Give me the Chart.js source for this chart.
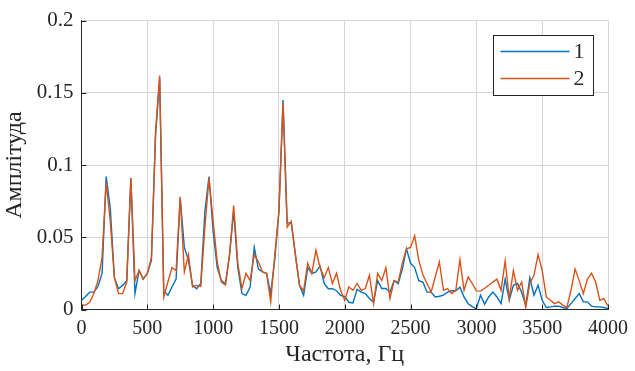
<!DOCTYPE html>
<html>
<head>
<meta charset="utf-8">
<script src="https://cdn.jsdelivr.net/npm/chart.js@4"></script>
<style>
  html, body { margin: 0; padding: 0; background: #fff; }
  #wrap { width: 635px; height: 371px; }
</style>
</head>
<body>
<div id="wrap"><canvas id="spectrum"></canvas></div>
<script>
// frequency step of the spectrum (Hz), bins 0..128
const binStep = 31.25;

const series1 = [
  0.0064, 0.009, 0.012, 0.012, 0.016, 0.025, 0.092, 0.070, 0.022, 0.0144,
  0.0167, 0.020, 0.091, 0.011, 0.027, 0.021, 0.025, 0.034, 0.120, 0.160,
  0.013, 0.0098, 0.0156, 0.021, 0.077, 0.043, 0.034, 0.0167, 0.0144, 0.018,
  0.068, 0.092, 0.054, 0.029, 0.020, 0.018, 0.038, 0.068, 0.029, 0.011,
  0.0098, 0.0156, 0.043, 0.028, 0.026, 0.025, 0.011, 0.035, 0.068, 0.145,
  0.060, 0.060, 0.038, 0.0167, 0.0098, 0.029, 0.025, 0.026, 0.030, 0.018,
  0.0144, 0.0144, 0.013, 0.0098, 0.009, 0.005, 0.0046, 0.014, 0.012, 0.011,
  0.0076, 0.005, 0.020, 0.0145, 0.0145, 0.012, 0.020, 0.018, 0.028, 0.042,
  0.032, 0.029, 0.020, 0.019, 0.012, 0.012, 0.0087, 0.0092, 0.010, 0.012,
  0.013, 0.013, 0.0155, 0.0087, 0.004, 0.002, 0.0005, 0.0099, 0.0037, 0.0087,
  0.012, 0.0087, 0.0041, 0.021, 0.0064, 0.0168, 0.018, 0.012, 0.003, 0.022,
  0.0099, 0.0168, 0.0064, 0.0014, 0.0018, 0.0023, 0.0023, 0.0014, 0.0007, 0.0041,
  0.0076, 0.011, 0.0053, 0.0053, 0.0023, 0.0018, 0.0018, 0.0014, 0.0007
];

const series2 = [
  0.003, 0.003, 0.005, 0.011, 0.020, 0.036, 0.088, 0.061, 0.022, 0.011,
  0.011, 0.019, 0.091, 0.020, 0.027, 0.021, 0.025, 0.036, 0.123, 0.162,
  0.0087, 0.019, 0.029, 0.027, 0.078, 0.026, 0.038, 0.0156, 0.0167, 0.016,
  0.057, 0.091, 0.061, 0.033, 0.019, 0.017, 0.038, 0.072, 0.032, 0.0144,
  0.025, 0.020, 0.038, 0.033, 0.026, 0.025, 0.0053, 0.038, 0.068, 0.143,
  0.057, 0.061, 0.038, 0.0167, 0.013, 0.032, 0.025, 0.041, 0.029, 0.022,
  0.029, 0.018, 0.025, 0.013, 0.0064, 0.0156, 0.0133, 0.018, 0.0133, 0.0145,
  0.0237, 0.0041, 0.025, 0.020, 0.029, 0.0076, 0.020, 0.019, 0.032, 0.042,
  0.043, 0.051, 0.034, 0.024, 0.018, 0.012, 0.0225, 0.033, 0.0133, 0.0145,
  0.011, 0.0133, 0.0345, 0.0133, 0.0225, 0.018, 0.0129, 0.0127, 0.0145, 0.0168,
  0.019, 0.021, 0.0133, 0.0336, 0.0076, 0.027, 0.0133, 0.019, 0.0014, 0.018,
  0.0237, 0.038, 0.027, 0.0087, 0.0064, 0.0041, 0.0053, 0.003, 0.0014, 0.0133,
  0.028, 0.020, 0.011, 0.021, 0.025, 0.019, 0.0064, 0.0076, 0.0023
];

const seriesLabels = ['1', '2'];
const xTicks = [0, 500, 1000, 1500, 2000, 2500, 3000, 3500, 4000];
const yTicks = [0, 0.05, 0.1, 0.15, 0.2];

const BLUE = '#0072BD';
const ORANGE = '#D95319';
const TEXT = '#262626';
const GRID = '#d6d6d6';
const SERIF = "'Liberation Serif', 'Times New Roman', serif";

const toPoints = vals => vals.map((v, i) => ({ x: i * binStep, y: v }));

// inner tick marks + MATLAB style legend box
const matlabDecor = {
  id: 'matlabDecor',
  afterDraw(chart) {
    const { ctx, chartArea: a, scales } = chart;
    ctx.save();
    ctx.strokeStyle = TEXT;
    ctx.lineWidth = 1;
    ctx.beginPath();
    xTicks.forEach(t => {
      const x = Math.round(scales.x.getPixelForValue(t)) + 0.5;
      ctx.moveTo(x, a.bottom);
      ctx.lineTo(x, a.bottom - 5);
    });
    yTicks.forEach(t => {
      const y = Math.round(scales.y.getPixelForValue(t)) + 0.5;
      ctx.moveTo(a.left, y);
      ctx.lineTo(a.left + 5, y);
    });
    ctx.stroke();

    // legend
    const bx = 493.5, by = 35.5, bw = 100, bh = 60;
    ctx.fillStyle = '#fff';
    ctx.fillRect(bx, by, bw, bh);
    ctx.strokeStyle = TEXT;
    ctx.strokeRect(bx, by, bw, bh);
    ctx.font = '22px ' + SERIF;
    ctx.textBaseline = 'middle';
    ctx.textAlign = 'left';
    chart.data.datasets.forEach((ds, i) => {
      const y = by + 16 + i * 27;
      ctx.strokeStyle = ds.borderColor;
      ctx.lineWidth = 1.5;
      ctx.beginPath();
      ctx.moveTo(bx + 7, y);
      ctx.lineTo(bx + 76, y);
      ctx.stroke();
      ctx.fillStyle = TEXT;
      ctx.fillText(ds.label, bx + 80, y + 1);
    });
    ctx.restore();
  }
};

new Chart(document.getElementById('spectrum'), {
  type: 'line',
  data: {
    datasets: [
      { label: seriesLabels[0], data: toPoints(series1), borderColor: BLUE, borderWidth: 1.4, pointRadius: 0, tension: 0, order: 1 },
      { label: seriesLabels[1], data: toPoints(series2), borderColor: ORANGE, borderWidth: 1.4, pointRadius: 0, tension: 0, order: 0 },
    ],
  },
  options: {
    responsive: true,
    maintainAspectRatio: false,
    animation: false,
    layout: { padding: { top: 17, right: 24, left: 0, bottom: 0 } },
    plugins: { legend: { display: false }, tooltip: { enabled: false } },
    scales: {
      x: {
        type: 'linear',
        min: 0,
        max: 4000,
        afterBuildTicks: s => { s.ticks = xTicks.map(v => ({ value: v })); },
        afterFit: s => { s.height = 61.5; },
        grid: { color: GRID, drawTicks: false },
        border: { color: TEXT, width: 1 },
        ticks: { color: TEXT, padding: 7, maxRotation: 0, font: { family: SERIF, size: 20 }, callback: v => String(v) },
        title: { display: true, text: 'Частота, Гц', color: TEXT, font: { family: SERIF, size: 24 }, padding: { top: 0, bottom: 2 } },
      },
      y: {
        min: 0,
        max: 0.2,
        afterBuildTicks: s => { s.ticks = yTicks.map(v => ({ value: v })); },
        afterFit: s => { s.width = 81.5; },
        grid: { color: GRID, drawTicks: false },
        border: { color: TEXT, width: 1 },
        ticks: { color: TEXT, padding: 8, font: { family: SERIF, size: 21 }, callback: v => String(+v.toFixed(2)) },
        title: { display: true, text: 'Амплітуда', color: TEXT, font: { family: SERIF, size: 24 }, padding: { top: 0, bottom: 2 } },
      },
    },
  },
  plugins: [matlabDecor],
});
</script>
</body>
</html>
